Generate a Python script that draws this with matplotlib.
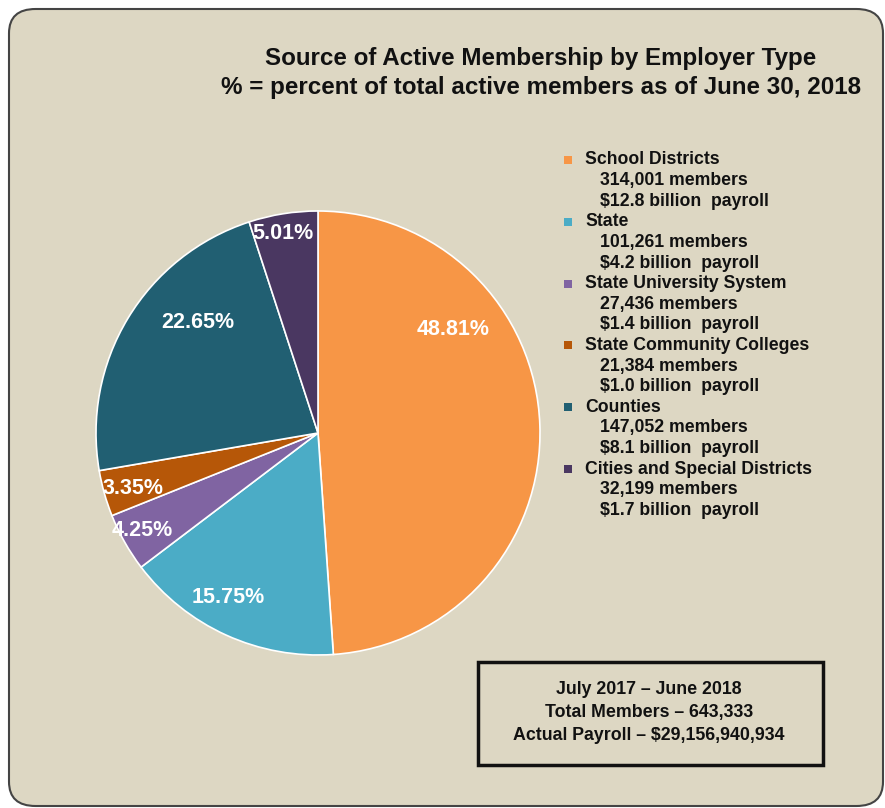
import matplotlib.pyplot as plt
from matplotlib.patches import FancyBboxPatch, Rectangle

plt.rcParams['font.family'] = ['Liberation Sans', 'DejaVu Sans']

# данные
categories = ['School Districts', 'State', 'State University System',
              'State Community Colleges', 'Counties', 'Cities and Special Districts']
percents = [48.81, 15.75, 4.25, 3.35, 22.65, 5.01]
members = ['314,001', '101,261', '27,436', '21,384', '147,052', '32,199']
payroll = ['12.8', '4.2', '1.4', '1.0', '8.1', '1.7']
colors = ['#F79646', '#4BACC6', '#8064A2', '#B65708', '#215F72', '#4A3761']

title = ('Source of Active Membership by Employer Type\n'
         '% = percent of total active members as of June 30, 2018')
summary = ['July 2017 \u2013 June 2018',
           'Total Members \u2013 643,333',
           'Actual Payroll \u2013 $29,156,940,934']

# положение подписей процентов внутри круга (в радиусах)
label_pos = [(0.61, 0.464), (-0.405, -0.743), (-0.79, -0.437),
             (-0.835, -0.248), (-0.541, 0.50), (-0.158, 0.90)]

W, H = 885, 808
fig = plt.figure(figsize=(W / 100, H / 100), dpi=100)
fig.patch.set_facecolor('white')

def fx(px):
    return px / W

def fy(py):
    return 1 - py / H

# фон с закруглёнными углами
bg = FancyBboxPatch((fx(9), fy(806)), fx(874), (797) / H,
                    boxstyle='round,pad=0,rounding_size=0.03',
                    transform=fig.transFigure, facecolor='#DDD7C3',
                    edgecolor='#444444', linewidth=1.5, zorder=-1)
fig.patches.append(bg)

# круговая диаграмма
r = 222
cx, cy = 318, 433
ax = fig.add_axes([fx(cx - r), fy(cy + r), 2 * r / W, 2 * r / H])
ax.pie(percents, colors=colors, startangle=90, counterclock=False,
       wedgeprops=dict(edgecolor='white', linewidth=1.2), radius=1)
ax.set_xlim(-1, 1)
ax.set_ylim(-1, 1)
ax.set_aspect('auto')
ax.axis('off')
for p, (x, y) in zip(percents, label_pos):
    ax.text(x, y, f'{p:.2f}%', color='white', fontsize=15.5, fontweight='bold',
            ha='center', va='center')

# заголовок
fig.text(fx(541), fy(73), title, ha='center', va='center', fontsize=17.4,
         fontweight='bold', linespacing=1.3, color='#111111')

# легенда
y = 160
step = 20.6
for name, m, pay, c in zip(categories, members, payroll, colors):
    fig.patches.append(Rectangle((fx(564), fy(y + 4)), 8 / W, 8 / H,
                                 transform=fig.transFigure, facecolor=c,
                                 edgecolor='none'))
    fig.text(fx(585), fy(y), name, fontsize=12.7, fontweight='bold',
             va='center', color='#111111')
    fig.text(fx(600), fy(y + step), f'{m} members', fontsize=12.7,
             fontweight='bold', va='center', color='#111111')
    fig.text(fx(600), fy(y + 2 * step), f'${pay} billion  payroll',
             fontsize=12.7, fontweight='bold', va='center', color='#111111')
    y += 3 * step

# рамка с итогами
fig.patches.append(Rectangle((fx(478), fy(765)), 345 / W, 103 / H,
                             transform=fig.transFigure, facecolor='none',
                             edgecolor='#111111', linewidth=2.5))
for i, line in enumerate(summary):
    fig.text(fx(649), fy(690 + 23 * i), line, ha='center', va='center',
             fontsize=12.8, fontweight='bold', color='#111111')

fig.savefig('out.png', dpi=100)
